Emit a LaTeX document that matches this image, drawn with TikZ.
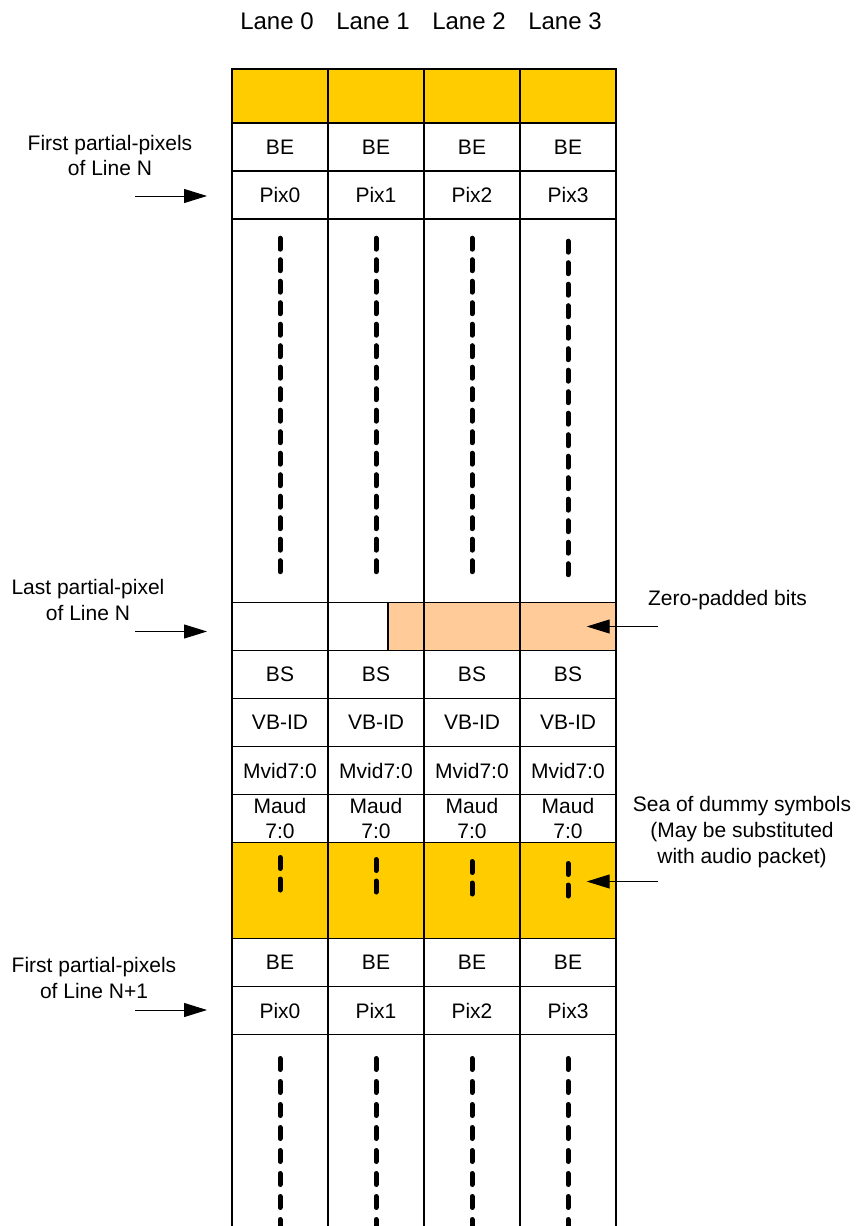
\documentclass[tikz,border=0pt]{standalone}
\usepackage{fontspec}
\setmainfont{Liberation Sans}
\usetikzlibrary{arrows.meta}

\definecolor{slotyellow}{RGB}{255,204,0}
\definecolor{padpeach}{RGB}{255,204,153}

\tikzset{
  cell/.style={draw, line width=0.6pt, minimum width=48pt, minimum height=24pt,
    inner sep=0pt, outer sep=0pt, font=\fontsize{10.5}{12.5}\selectfont, align=center},
  filler/.style={cell, fill=slotyellow},
  laneskip/.style={line width=2.5pt, line cap=round, dash pattern=on 5.5pt off 5.25pt},
  note/.style={font=\fontsize{10.5}{12.8}\selectfont, align=center},
  marker/.style={-{Triangle[length=11.5pt,width=7pt]}, line width=0.5pt},
}

\begin{document}
\begin{tikzpicture}[x=0.5pt,y=-0.5pt]
  \useasboundingbox (0,0) rectangle (858,1226);
  \coordinate (floor) at (0,1226);

  % Lanes
  \foreach \c in {0,...,3} {
    \node[font=\fontsize{12}{14}\selectfont] (lane\c) at (277+96*\c,21) {Lane \c};
  }

  % Padding after the last pixel
  \fill[padpeach] (388,602.5) rectangle (616,650.5);

  % Lane columns
  \foreach \c in {0,...,3} {
    \pgfmathsetmacro{\cx}{280+96*\c}
    \pgfmathsetmacro{\sh}{3*int(\c/3)}
    \node[filler, minimum height=27pt] (top\c) at (\cx,96) {};
    \node[cell] (be\c) at (\cx,147) {BE};
    \node[cell] (pix\c) at (\cx,195) {Pix\c};
    \node[cell, minimum height=191.75pt] (gap\c) at (\cx,410.75) {};
    \node[cell] (zero\c) at (\cx,626.5) {};
    \node[cell] (bs\c) at (\cx,674.5) {BS};
    \node[cell] (vb\c) at (\cx,722.5) {VB-ID};
    \node[cell] (mv\c) at (\cx,770.5) {Mvid7:0};
    \node[cell] (ma\c) at (\cx,818.5) {Maud\\7:0};
    \node[filler, minimum height=48pt] (dum\c) at (\cx,890.5) {};
    \node[cell] (bn\c) at (\cx,962.5) {BE};
    \node[cell] (pn\c) at (\cx,1010.5) {Pix\c};
    \draw[line width=0.6pt] (pn\c.south west) -- (pn\c.south west |- floor);
    \draw[line width=0.6pt] (pn\c.south east) -- (pn\c.south east |- floor);
    % dashes
    \draw[laneskip] (\cx,238.2+\sh) -- (\cx,572+\sh);
    \draw[laneskip] (\cx,857.5+2*\c) -- (\cx,890+2*\c);
    \draw[laneskip, dash pattern=on 5.5pt off 6pt] (\cx,1058.5) -- (\cx,1226);
  }
  \draw[line width=0.6pt] (388,602.5) -- (388,650.5);

  % Left notes
  \node[note] (firstN) at (110,155.5) {First partial-pixels\\of Line N};
  \node[note] (lastN) at (88,600) {Last partial-pixel\\of Line N};
  \node[note] (firstN1) at (94,978) {First partial-pixels\\of Line N+1};
  \coordinate (fromFirstN) at (135,196);
  \coordinate (fromLastN) at (135,631.5);
  \coordinate (fromFirstN1) at (135,1010);
  \draw[marker, shorten >=12.5pt] (fromFirstN) -- (fromFirstN -| pix0.west);
  \draw[marker, shorten >=12.5pt] (fromLastN) -- (fromLastN -| zero0.west);
  \draw[marker, shorten >=12.5pt] (fromFirstN1) -- (fromFirstN1 -| pn0.west);

  % Right notes
  \node[note] (padnote) at (727.5,600) {Zero-padded bits};
  \node[note] (seanote) at (742,832) {Sea of dummy symbols\\(May be substituted\\with audio packet)};
  \coordinate (fromPad) at (658,626.5);
  \coordinate (fromSea) at (658,881.5);
  \draw[marker, shorten >=9.35pt] (fromPad) -- (fromPad -| zero3.center);
  \draw[marker, shorten >=9.35pt] (fromSea) -- (fromSea -| dum3.center);
\end{tikzpicture}
\end{document}
